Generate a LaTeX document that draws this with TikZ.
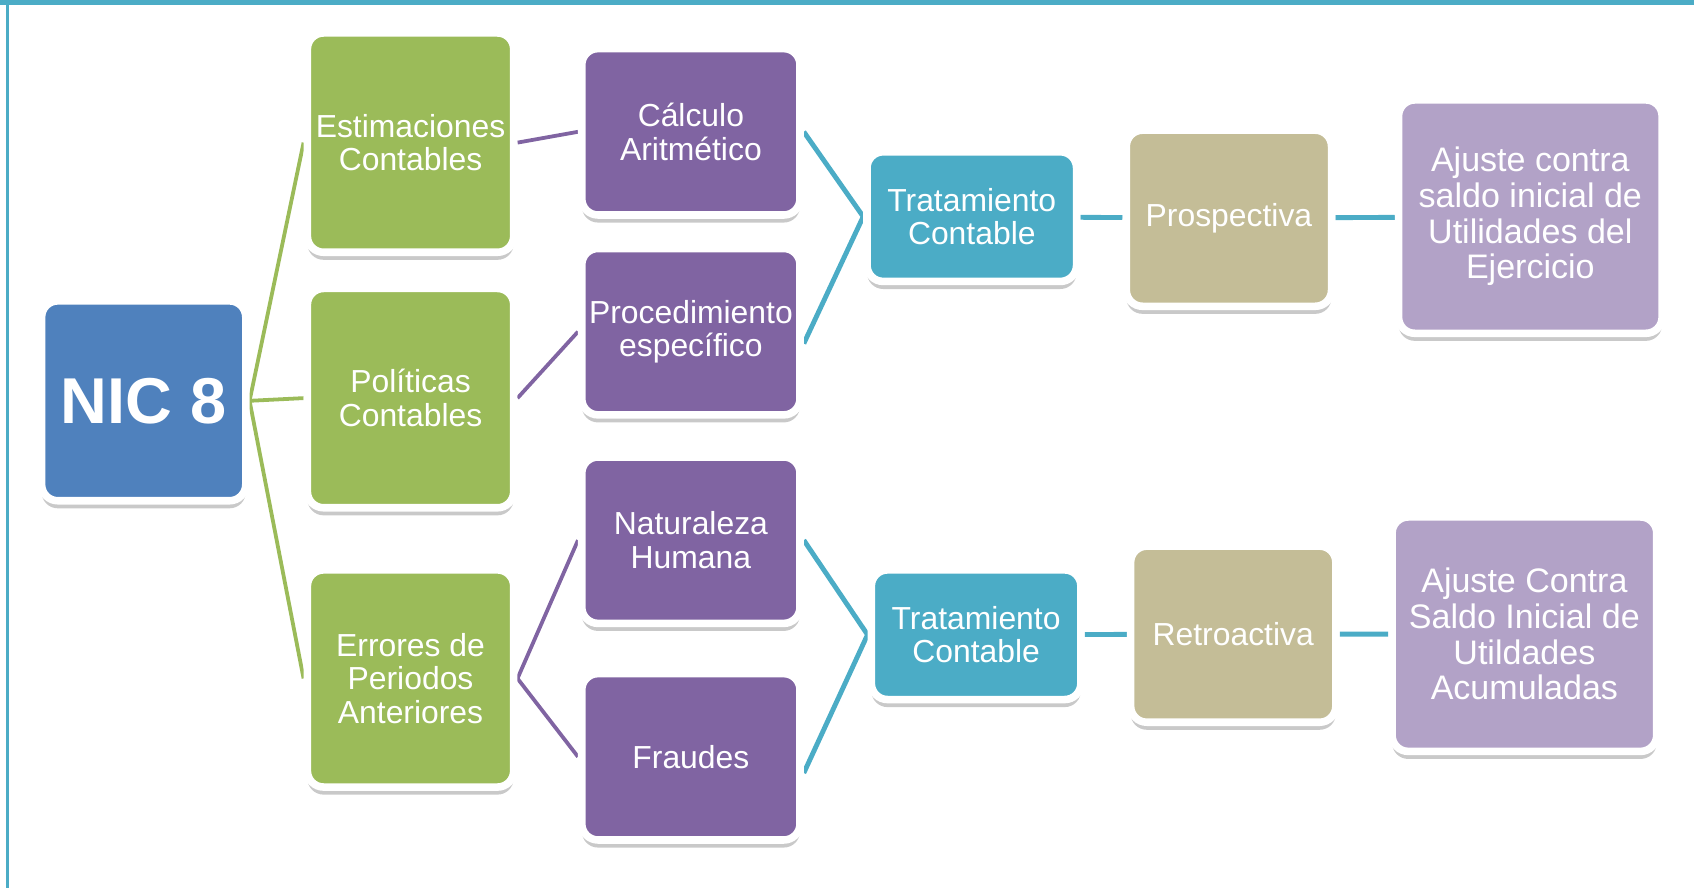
\documentclass[tikz,border=0pt]{standalone}
\usepackage{fontspec}
\setmainfont{Liberation Sans}
\usetikzlibrary{shadows,backgrounds}
\definecolor{marco}{HTML}{4BACC6}
\definecolor{verde}{HTML}{9BBB59}
\definecolor{morado}{HTML}{8064A2}
\definecolor{celeste}{HTML}{4BACC6}
\definecolor{arena}{HTML}{C4BD97}
\definecolor{lila}{HTML}{B2A2C7}
\definecolor{azul}{HTML}{4F81BD}

\begin{document}
\begin{tikzpicture}[x=1pt,y=-1pt,
    caja/.style={draw=white, line width=7pt, rounded corners=15pt, text=white,
        align=center, inner sep=0pt, font=\fontsize{29.5}{31}\selectfont,
        drop shadow={shadow xshift=0pt, shadow yshift=-7pt, opacity=.3, fill=black!70}},
    grande/.style={font=\fontsize{31.5}{33}\selectfont}
]
    \useasboundingbox (0,0) rectangle (1568,822);
    \fill[marco] (0,0) rectangle (1568,4.5);
    \fill[marco] (6,0) rectangle (8.5,822);

    \node[caja, fill=azul, minimum width=189, minimum height=185,
        font=\fontsize{60}{62}\selectfont\bfseries] (nic) at (133,371) {NIC 8};

    \node[caja, fill=verde, minimum width=191, minimum height=203] (est) at (380,132) {Estimaciones\\Contables};
    \node[caja, fill=verde, minimum width=191, minimum height=203] (pol) at (380,368.5) {Políticas\\Contables};
    \node[caja, fill=verde, minimum width=191, minimum height=201] (err) at (380,628) {Errores de\\Periodos\\Anteriores};

    \node[caja, fill=morado, minimum width=202, minimum height=154] (cal) at (639.5,122) {Cálculo\\Aritmético};
    \node[caja, fill=morado, minimum width=202, minimum height=154] (proc) at (639.5,307) {Procedimiento\\específico};
    \node[caja, fill=morado, minimum width=202, minimum height=154] (nat) at (639.5,500) {Naturaleza\\Humana};
    \node[caja, fill=morado, minimum width=202, minimum height=154] (fra) at (639.5,700.5) {Fraudes};

    \node[caja, fill=celeste, minimum width=194, minimum height=120] (trat1) at (899.5,200.5) {Tratamiento\\Contable};
    \node[caja, fill=celeste, minimum width=194, minimum height=120] (trat2) at (903.5,587.5) {Tratamiento\\Contable};

    \node[caja, fill=arena, minimum width=190, minimum height=163] (pros) at (1137.5,202) {Prospectiva};
    \node[caja, fill=arena, minimum width=190, minimum height=163] (retro) at (1141.5,587) {Retroactiva};

    \node[caja, grande, fill=lila, minimum width=244, minimum height=216] (ajus1) at (1416.5,200.5)
        {Ajuste contra\\saldo inicial de\\Utilidades del\\Ejercicio};
    \node[caja, grande, fill=lila, minimum width=245, minimum height=217] (ajus2) at (1411,587)
        {Ajuste Contra\\Saldo Inicial de\\Utildades\\Acumuladas};

    % conectores detras de las cajas
    \begin{scope}[on background layer]
        \draw[verde, line width=3.5pt] (est.west) -- (nic.east) -- (pol.west);
        \draw[verde, line width=3.5pt] (nic.east) -- (err.west);
        \draw[morado, line width=3.5pt] (est.east) -- (cal.west);
        \draw[morado, line width=3.5pt] (pol.east) -- (proc.west);
        \draw[morado, line width=3.5pt] (nat.west) -- (err.east) -- (fra.west);
        \draw[celeste, line width=4.5pt] (cal.east) -- (trat1.west) -- ([yshift=-11pt]proc.east);
        \draw[celeste, line width=4.5pt] (nat.east) -- (trat2.west) -- ([yshift=-15pt]fra.east);
        \draw[celeste, line width=4.5pt] (trat1) -- (pros) -- (ajus1);
        \draw[celeste, line width=4.5pt] (trat2) -- (retro) -- (ajus2);
    \end{scope}
\end{tikzpicture}
\end{document}
